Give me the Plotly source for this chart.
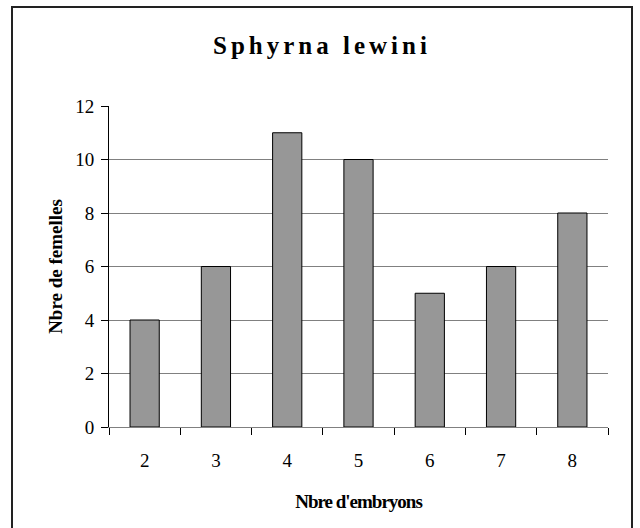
import plotly.graph_objects as go

# Number of embryons per female and how many females carried each count
embryons = ["2", "3", "4", "5", "6", "7", "8"]
femelles = [4, 6, 11, 10, 5, 6, 8]
y_ticks = [0, 2, 4, 6, 8, 10, 12]

W, H = 640, 528
L, R, T, B = 109, 608, 106, 427  # plot-area edges in pixels

fig = go.Figure(
    go.Bar(
        x=embryons,
        y=femelles,
        marker=dict(color="#979797", line=dict(color="#000000", width=1)),
        width=0.41,
    )
)

def px_x(x):
    return (x - L) / (R - L)

def px_y(y):
    return (B - y) / (B - T)

# outer chart frame
fig.add_shape(
    type="rect", xref="paper", yref="paper",
    x0=px_x(12), x1=px_x(632), y0=px_y(540), y1=px_y(7),
    line=dict(color="#222222", width=2), layer="below",
)

serif = "Liberation Serif"

fig.update_layout(
    width=W, height=H,
    margin=dict(l=L, r=W - R, t=T, b=H - B),
    paper_bgcolor="white", plot_bgcolor="white",
    showlegend=False,
    font=dict(family=serif, color="black", size=19),
    title=dict(
        text="<b>Sphyrna lewini</b>",
        x=0.503, xanchor="center", xref="container",
        y=1 - 45 / H, yanchor="middle",
        font=dict(family=serif, size=25, color="black"),
    ),
    xaxis=dict(
        type="category",
        tickson="boundaries",
        ticks="outside", ticklen=7, tickcolor="black", tickwidth=1,
        showline=True, linecolor="#808080", linewidth=1,
        showgrid=False,
        ticklabelstandoff=16,
        tickfont=dict(family=serif, size=19, color="black"),
        title=dict(
            text="<b>Nbre d'embryons</b>",
            font=dict(family=serif, size=19, color="black"),
            standoff=24,
        ),
    ),
    yaxis=dict(
        range=[0, 12],
        tickvals=y_ticks,
        ticks="outside", ticklen=7, tickcolor="black", tickwidth=1,
        showline=True, linecolor="black", linewidth=1,
        showgrid=True, gridcolor="#808080", gridwidth=1,
        zeroline=False,
        ticklabelstandoff=3,
        tickfont=dict(family=serif, size=19, color="black"),
        title=dict(
            text="<b>Nbre de femelles</b>",
            font=dict(family=serif, size=19, color="black"),
            standoff=7,
        ),
    ),
)

# spaced-out title lettering and tighter x-axis title
post = """
var gd = document.getElementsByClassName('plotly-graph-div')[0];
function styleText(){
  var t = gd.querySelector('.gtitle');
  if (t) t.style.letterSpacing = '4px';
  var xt = gd.querySelector('.xtitle');
  if (xt) xt.style.letterSpacing = '-1px';
}
styleText();
gd.on('plotly_afterplot', styleText);
"""

fig.write_html("out.html", post_script=post)
